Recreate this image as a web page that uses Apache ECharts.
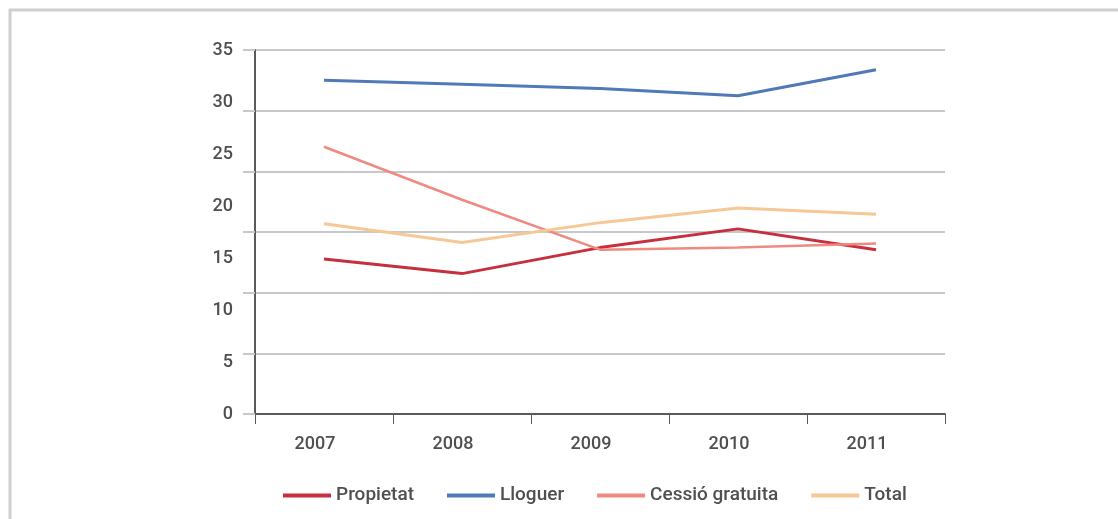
<!DOCTYPE html>
<html>
<head>
<meta charset="utf-8">
<script src="https://cdn.jsdelivr.net/npm/echarts@6/dist/echarts.min.js"></script>
<style>
html,body{margin:0;padding:0;background:#fff;}
#chart{width:1118px;height:519px;}
</style>
</head>
<body>
<div id="chart"></div>
<script>
const years = ['2007', '2008', '2009', '2010', '2011'];
const propietat = [14.9, 13.5, 16.0, 17.8, 15.8];
const lloguer = [32.1, 31.7, 31.3, 30.6, 33.1];
const cessio = [25.7, 20.6, 15.8, 16.0, 16.4];
const total = [18.3, 16.5, 18.4, 19.8, 19.2];
const seriesNames = ['Propietat', 'Lloguer', 'Cessió gratuita', 'Total'];
const yMin = 0, yMax = 35, yStep = 5;
const gridLineCount = 6;

const colors = ['#c72f3f', '#4f79b7', '#ef8a80', '#f7c796'];
const font = 'Roboto, "DejaVu Sans", sans-serif';
const chart = echarts.init(document.getElementById('chart'));
const mk = (name, data, i, w) => ({
  name, type: 'line', data, yAxisIndex: 0, symbol: 'none',
  lineStyle: { color: colors[i], width: w }, itemStyle: { color: colors[i] }
});
chart.setOption({
  animation: false,
  graphic: [
    { type: 'line', shape: { x1: 9, y1: 10, x2: 1118, y2: 10 }, style: { stroke: '#cfcfcf', lineWidth: 3 } },
    { type: 'line', shape: { x1: 10, y1: 9, x2: 10, y2: 519 }, style: { stroke: '#cfcfcf', lineWidth: 3 } }
  ],
  grid: { left: 255, right: 173, top: 50, bottom: 105 },
  legend: {
    left: 283, top: 486, padding: 0, itemWidth: 48, itemHeight: 4, itemGap: 33,
    icon: 'rect',
    textStyle: { fontFamily: font, fontSize: 19, color: '#4f4f4f', fontWeight: 500, padding: [0, 0, 0, 0] },
    data: seriesNames
  },
  xAxis: {
    type: 'category', data: years, boundaryGap: true,
    axisLine: { lineStyle: { color: '#5a5a5a', width: 2 } },
    axisTick: { show: true, length: 10, lineStyle: { color: '#5a5a5a', width: 1 } },
    axisLabel: { fontFamily: font, fontSize: 18, color: '#4f4f4f', fontWeight: 500, margin: 21, padding: [0, 18, 0, 0] },
    splitLine: { show: false }
  },
  yAxis: [
    {
      type: 'value', min: yMin, max: yMax, interval: yStep,
      axisLine: { show: true, lineStyle: { color: '#5a5a5a', width: 2 } },
      axisTick: { show: false },
      splitLine: { show: false },
      axisLabel: { fontFamily: font, fontSize: 18, color: '#4f4f4f', fontWeight: 500, margin: 22 }
    },
    {
      type: 'value', min: 0, max: gridLineCount, interval: 1, position: 'left',
      axisLine: { show: false },
      axisTick: { show: true, length: 12, lineStyle: { color: '#c8c8c8', width: 2 } },
      splitLine: { show: true, lineStyle: { color: '#c8c8c8', width: 2 } },
      axisLabel: { show: false }
    }
  ],
  series: [
    mk(seriesNames[0], propietat, 0, 3),
    mk(seriesNames[1], lloguer, 1, 3),
    mk(seriesNames[2], cessio, 2, 2.5),
    mk(seriesNames[3], total, 3, 3)
  ]
});
</script>
</body>
</html>
